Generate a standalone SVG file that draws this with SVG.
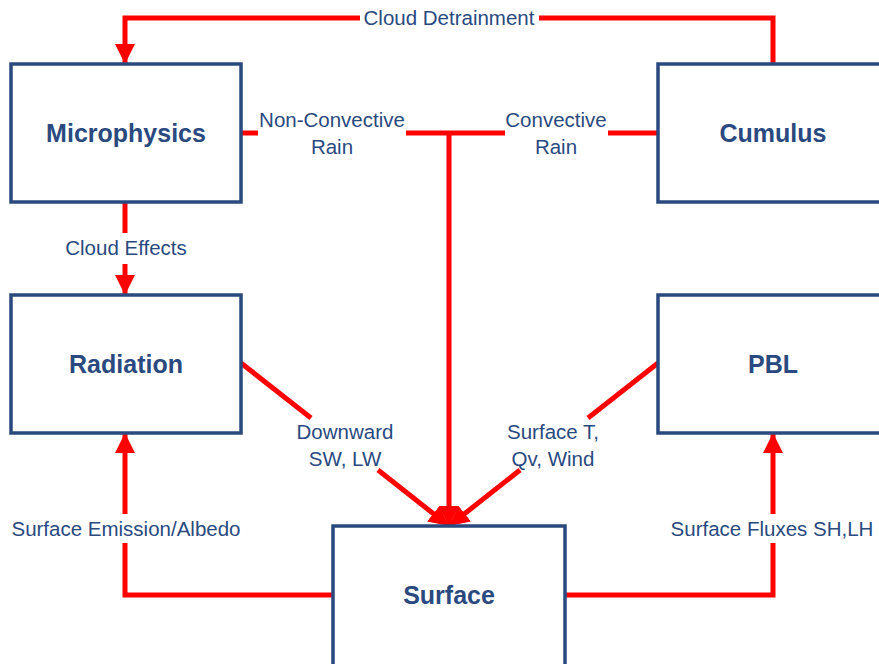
<svg xmlns="http://www.w3.org/2000/svg" width="879" height="664" viewBox="0 0 879 664">
<defs>
<marker id="ah" markerUnits="userSpaceOnUse" markerWidth="20" markerHeight="20" viewBox="0 0 18 18" refX="18" refY="9" orient="auto">
<path d="M0,0 L18,9 L0,18 z" fill="#FF0000"/>
</marker>
<style>
.box{fill:#FFFFFF;stroke:#2A4A7F;stroke-width:3.5}
.title{font-family:"Liberation Sans",Arial,sans-serif;font-weight:bold;font-size:25px;fill:#2A4A7F;text-anchor:middle}
.lbl{font-family:"Liberation Sans",Arial,sans-serif;font-size:20.5px;fill:#2A4A7F;text-anchor:middle}
.ln{fill:none;stroke:#FF0000;stroke-width:5;stroke-linejoin:miter}
.arr{marker-end:url(#ah)}
</style>
</defs>
<rect width="879" height="664" fill="#FFFFFF"/>
<g id="connectors">
<path class="ln" d="M773,64 V18 H539"/>
<path class="ln arr" d="M360,18 H125 V64"/>
<path class="ln" d="M241,133 H258"/>
<path class="ln" d="M406,133 H505"/>
<path class="ln" d="M608,133 H658"/>
<path class="ln arr" d="M449,133 V526"/>
<path class="ln" d="M125,202 V233"/>
<path class="ln arr" d="M125,264 V295"/>
<path class="ln" d="M241,363 L311,418"/>
<path class="ln arr" d="M378,470 L449,526"/>
<path class="ln" d="M658,363 L588,418"/>
<path class="ln arr" d="M520,470 L449,526"/>
<path class="ln" d="M333,595 H125 V543"/>
<path class="ln arr" d="M125,514 V433"/>
<path class="ln" d="M565,595 H773 V543"/>
<path class="ln arr" d="M773,514 V433"/>
<text class="lbl" x="449" y="25">Cloud Detrainment</text>
<text class="lbl" x="332" y="127">Non-Convective</text>
<text class="lbl" x="332" y="154">Rain</text>
<text class="lbl" x="556" y="127">Convective</text>
<text class="lbl" x="556" y="154">Rain</text>
<text class="lbl" x="126" y="255">Cloud Effects</text>
<text class="lbl" x="345" y="439">Downward</text>
<text class="lbl" x="345" y="466">SW, LW</text>
<text class="lbl" x="553" y="439">Surface T,</text>
<text class="lbl" x="553" y="466">Qv, Wind</text>
<text class="lbl" x="126" y="536">Surface Emission/Albedo</text>
<text class="lbl" x="772" y="536">Surface Fluxes SH,LH</text>
</g>
<g id="microphysics">
<rect class="box" x="11" y="64" width="230" height="138"/>
<text class="title" x="126" y="142">Microphysics</text>
</g>
<g id="cumulus">
<rect class="box" x="658" y="64" width="230" height="138"/>
<text class="title" x="773" y="142">Cumulus</text>
</g>
<g id="radiation">
<rect class="box" x="11" y="295" width="230" height="138"/>
<text class="title" x="126" y="373">Radiation</text>
</g>
<g id="pbl">
<rect class="box" x="658" y="295" width="230" height="138"/>
<text class="title" x="773" y="373">PBL</text>
</g>
<g id="surface">
<rect class="box" x="333" y="526" width="232" height="140"/>
<text class="title" x="449" y="604">Surface</text>
</g>
</svg>
